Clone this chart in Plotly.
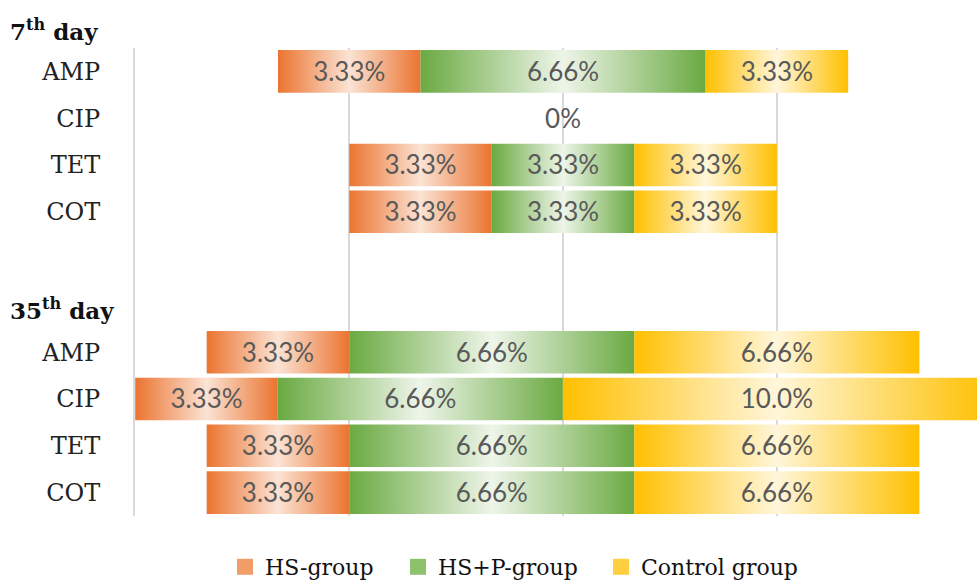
import plotly.graph_objects as go

# Resistance rates (%) per antibiotic, sampling day and group
drugs = ["AMP", "CIP", "TET", "COT"]
day_titles = ["7<sup>th</sup> day", "35<sup>th</sup> day"]
groups = ["HS-group", "HS+P-group", "Control group"]

hs_day7 = [3.33, 0.0, 3.33, 3.33]
hsp_day7 = [6.66, 0.0, 3.33, 3.33]
ctrl_day7 = [3.33, 0.0, 3.33, 3.33]

hs_day35 = [3.33, 3.33, 3.33, 3.33]
hsp_day35 = [6.66, 6.66, 6.66, 6.66]
ctrl_day35 = [6.66, 10.0, 6.66, 6.66]

# gradient stops: edge colour, centre colour
edge_colors = ["#EB7430", "#6AAA42", "#FFC000"]
centre_colors = ["#FBE3D4", "#EEF5E9", "#FFF6DA"]
legend_colors = ["#F29C68", "#8DC16C", "#FFCF3F"]

blocks = [
    (0, [hs_day7, hsp_day7, ctrl_day7]),
    (6, [hs_day35, hsp_day35, ctrl_day35]),
]

HALF = 0.455      # half bar thickness, in row units
LABEL_DY = 0.06   # nudges the value labels onto the bar's optical centre
fig = go.Figure()

label_x, label_y, label_txt = [], [], []
tick_vals, tick_text = [], []


def fmt(v):
    return f"{v:.2f}%" if v < 10 else f"{v:.1f}%"


for start, series in blocks:
    for i, drug in enumerate(drugs):
        row = start + i
        tick_vals.append(row)
        tick_text.append(drug)
        vals = [s[i] for s in series]
        total = sum(vals)
        if total == 0:
            label_x.append(0)
            label_y.append(row + LABEL_DY)
            label_txt.append("0%")
            continue
        # bars are centred on zero
        x0 = -total / 2.0
        for g, v in enumerate(vals):
            if v <= 0:
                continue
            x1 = x0 + v
            fig.add_trace(go.Scatter(
                x=[x0, x1, x1, x0, x0],
                y=[row - HALF, row - HALF, row + HALF, row + HALF, row - HALF],
                mode="lines", fill="toself", line=dict(width=0),
                fillgradient=dict(
                    type="horizontal", start=x0, stop=x1,
                    colorscale=[[0, edge_colors[g]], [0.5, centre_colors[g]],
                                [1, edge_colors[g]]]),
                hoverinfo="skip", showlegend=False))
            label_x.append((x0 + x1) / 2)
            label_y.append(row + LABEL_DY)
            label_txt.append(fmt(v))
            x0 = x1

fig.add_trace(go.Scatter(
    x=label_x, y=label_y, text=label_txt, mode="text",
    textfont=dict(family="Lato", size=26, color="#595959"),
    hoverinfo="skip", showlegend=False, cliponaxis=False))

# one legend per group so each entry can be placed on its own
legend_names = ["legend", "legend2", "legend3"]
legend_x = [0.1069, 0.3124, 0.5534]
for g, name in enumerate(groups):
    fig.add_trace(go.Scatter(x=[None], y=[None], name=name, mode="markers",
                             legend=legend_names[g],
                             marker=dict(symbol="square", size=16,
                                         color=legend_colors[g])))

legend_style = dict(orientation="h", xanchor="left", y=-0.11, yanchor="middle",
                    font=dict(family="DejaVu Serif", size=22, color="#111111"),
                    itemclick=False, itemwidth=30, bgcolor="rgba(0,0,0,0)")

# day headings (the first one sits above the plotting area)
heading_y = [1 + 18 / 473, 1 - (312 - 48) / 473]
for title, hy in zip(day_titles, heading_y):
    fig.add_annotation(
        xref="paper", yref="paper", x=-0.151, y=hy,
        text=f"<b>{title}</b>", showarrow=False, xanchor="left", yanchor="middle",
        font=dict(family="DejaVu Serif", size=23, color="#111111"))

fig.update_layout(
    width=977, height=588,
    margin=dict(l=135, r=0, t=48, b=67),
    plot_bgcolor="white", paper_bgcolor="white",
    showlegend=True,
    legend=dict(x=legend_x[0], **legend_style),
    legend2=dict(x=legend_x[1], **legend_style),
    legend3=dict(x=legend_x[2], **legend_style),
    xaxis=dict(range=[-10, 9.67], tickvals=[-5, 0, 5], showticklabels=False,
               showgrid=True, gridcolor="#D9D9D9", gridwidth=2, zeroline=False,
               showline=False, fixedrange=True),
    yaxis=dict(range=[9.5, -0.5], tickvals=tick_vals, ticktext=tick_text,
               showgrid=False, zeroline=False, showline=True, linecolor="#D9D9D9",
               linewidth=2, ticks="", ticklabelstandoff=28,
               tickfont=dict(family="DejaVu Serif", size=24, color="#222222"),
               fixedrange=True),
)

fig.write_html("out.html")
